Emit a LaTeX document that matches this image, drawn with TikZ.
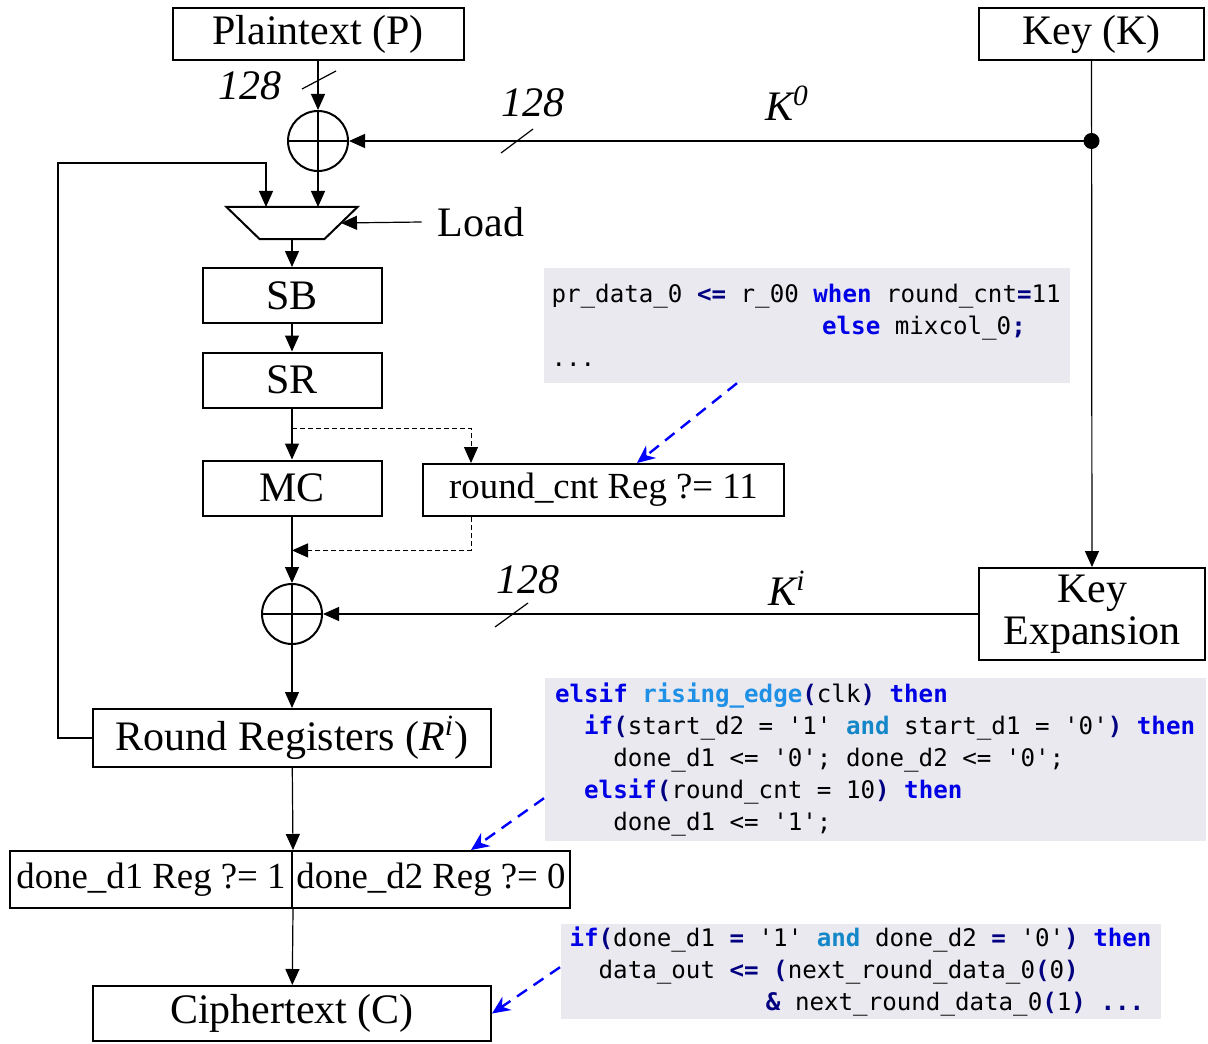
\documentclass[tikz,border=0pt]{standalone}
\usepackage{fontspec}
\setmainfont{Liberation Serif}
\setmonofont{DejaVu Sans Mono}
\usepackage{xcolor}
\usetikzlibrary{arrows.meta, calc}

\definecolor{kwblue}{RGB}{0,0,230}
\definecolor{fnblue}{RGB}{30,144,230}
\definecolor{andblue}{RGB}{20,135,200}
\definecolor{opnavy}{RGB}{0,0,128}
\definecolor{codebg}{RGB}{235,233,240}
\newcommand\kw[1]{\textbf{\textcolor{kwblue}{#1}}}
\newcommand\fn[1]{\textbf{\textcolor{fnblue}{#1}}}
\newcommand\andkw[1]{\textbf{\textcolor{andblue}{#1}}}
\newcommand\op[1]{\textbf{\textcolor{opnavy}{#1}}}
\newcommand\gap[1]{\hspace*{#1\fontcharwd\font`x}}
\newcommand\bl{\gap{1}}
\newcommand\codefont{\ttfamily\fontsize{12.08}{16}\selectfont}

\begin{document}
\begin{tikzpicture}[x=0.5pt, y=-0.5pt, >={Triangle[length=8pt, width=7pt]}, line width=0.6pt,
  every node/.style={font=\fontsize{21}{21}\selectfont},
  block/.style={draw, line width=1pt, inner sep=0pt},
  small/.style={font=\fontsize{18.4}{18.4}\selectfont},
  bus/.style={font=\fontsize{21}{21}\selectfont\itshape},
  xor/.style={draw, circle, line width=1pt, minimum size=30pt, inner sep=0pt,
    path picture={\draw[line width=1pt] (path picture bounding box.north) -- (path picture bounding box.south)
      (path picture bounding box.west) -- (path picture bounding box.east);}},
  ctrl/.style={->, dash pattern=on 2.5pt off 1.5pt, line width=0.5pt},
  note/.style={-{Stealth[length=9pt, width=8pt]}, blue, line width=1.2pt, dash pattern=on 6pt off 4pt},
  codebox/.style={fill=codebg, anchor=north west, align=left, inner ysep=0pt, font=\codefont}]
  \useasboundingbox (0,0) rectangle (1208,1043);

  % inputs
  \node[block, minimum width=145.5pt, minimum height=26pt] (plain) at (318,34) {Plaintext (P)};
  \node[block, minimum width=112.5pt, minimum height=26pt] (key) at (1091.5,34) {Key (K)};
  \node[xor] (xor1) at (318,141) {};
  \coordinate (kdot) at (key.south |- xor1);

  % mux
  \coordinate (mux) at (292,223);
  \draw[line width=1pt] ($(mux)+(-65.5,-16)$) -- ($(mux)+(65.5,-16)$) -- ($(mux)+(32.5,16)$) -- ($(mux)+(-32.5,16)$) -- cycle;
  \node (load) at (481,222) {Load};

  % round datapath
  \node[block, minimum width=89.5pt, minimum height=27.5pt] (sb) at (292,295.5) {SB};
  \node[block, minimum width=89.5pt, minimum height=27.5pt] (sr) at (292,380) {SR};
  \node[block, minimum width=89.5pt, minimum height=27.5pt] (mc) at (292,488) {MC};
  \node[block, small, minimum width=180.5pt, minimum height=26pt] (rcnt) at (603.5,490) {round\_cnt Reg ?= 11};
  \node[xor] (xor2) at (292,614) {};
  \node[block, align=center, minimum width=113pt, minimum height=46pt] (kexp) at (1092,614) {Key\\Expansion};
  \node[block, minimum width=199pt, minimum height=29pt] (rreg) at (292,738) {Round Registers (\textit{R}\textsuperscript{\textit{i}})};
  \node[block, small, minimum width=141pt, minimum height=28.5pt] (done1) at (151,879.5) {done\_d1 Reg ?= 1};
  \node[block, small, minimum width=139pt, minimum height=28.5pt] (done2) at (431,879.5) {done\_d2 Reg ?= 0};
  \node[block, minimum width=199pt, minimum height=27.5pt] (ciph) at (292,1013.5) {Ciphertext (C)};

  % bus labels
  \node[bus] (w1) at (250,86) {128};
  \node[bus] (w2) at (533,103) {128};
  \node[bus] (w3) at (528,580) {128};
  \node[bus] (k0) at (787,103) {K\textsuperscript{0}};
  \node[bus] (ki) at (787,588) {K\textsuperscript{i}};

  % connectors
  \draw[->] (plain) -- (xor1);
  \draw ($(xor1)+(-16,-52)$) -- ++(34,-18);
  \draw[->] (key) -- (kexp);
  \fill (kdot) circle (4pt);
  \draw[->] (kdot) -- (xor1);
  \draw ($(xor1)+(183,12)$) -- ++(32,-24);
  \draw[->] (xor1) -- ($(mux)+(26,-16)$);
  \draw[->] (rreg.west) -- ++(-34,0) |- ($(mux)+(-26,-60)$) -- ($(mux)+(-26,-16)$);
  \draw[->] ($(load.west)+(-9,0)$) -- ($(mux)+(49,0)$);
  \draw[->] ($(mux)+(0,16)$) -- (sb);
  \draw[->] (sb) -- (sr);
  \draw[->] (sr) -- (mc);
  \coordinate (tap) at ($(sr.south)!0.39!(mc.north)$);
  \draw[ctrl] (tap) -| ($(rcnt.north west)+(49,0)$);
  \draw[ctrl] ($(rcnt.south west)+(49,0)$) |- ($(mc.south)!0.51!(xor2.north)$);
  \draw[->] (mc) -- (xor2);
  \draw[->] (kexp) -- (xor2);
  \draw ($(xor2)+(203,13)$) -- ++(33,-24);
  \draw[->] (xor2) -- (rreg);
  \draw[->] (rreg) -- (done1.north east);
  \draw[->] (done1.south east) -- (ciph);

  % code snippets
  \node[codebox, text width=255pt, inner xsep=4pt, minimum height=57.5pt] (code1) at (543,267)
    {pr\_data\_0\bl\op{<=}\bl r\_00\bl\kw{when}\bl round\_cnt\op{=}11\\
     \gap{18.6}\kw{else}\bl mixcol\_0\op{;}\\
     ...};
  \node[codebox, text width=320pt, inner xsep=5.25pt, minimum height=81.5pt] (code2) at (544,677)
    {\kw{elsif}\bl\fn{rising\_edge}\op{(}clk\op{)}\bl\kw{then}\\
     \gap{2}\kw{if}\op{(}start\_d2\bl=\bl'1'\bl\andkw{and}\bl start\_d1\bl=\bl'0'\op{)}\bl\kw{then}\\
     \gap{4}done\_d1\bl<=\bl'0';\bl done\_d2\bl<=\bl'0';\\
     \gap{2}\kw{elsif}\op{(}round\_cnt\bl=\bl10\op{)}\bl\kw{then}\\
     \gap{4}done\_d1\bl<=\bl'1';};
  \node[codebox, text width=291pt, inner xsep=4.5pt, minimum height=47.5pt] (code3) at (560,923)
    {\kw{if}\op{(}done\_d1\bl\op{=}\bl'1'\bl\andkw{and}\bl done\_d2\bl\op{=}\bl'0'\op{)}\bl\kw{then}\\
     \gap{2}data\_out\bl\op{<=}\bl\op{(}next\_round\_data\_0\op{(}0\op{)}\\
     \gap{13.5}\op{\&}\bl next\_round\_data\_0\op{(}1\op{)}\bl\op{...}};

  % pointers
  \draw[note] ($(code1.south west)+(194,0)$) -- ($(rcnt.north west)+(215,0)$);
  \draw[note] ($(code2.south west)+(0,-43)$) -- ($(done2.north west)+(180,0)$);
  \draw[note] ($(code3.south west)+(0,-52)$) -- (ciph.east);
\end{tikzpicture}
\end{document}
